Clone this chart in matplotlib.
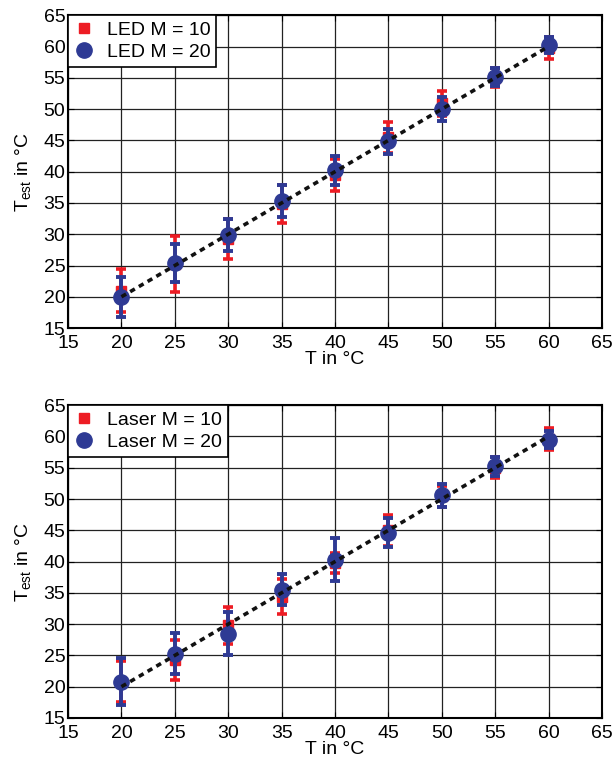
import numpy as np
import matplotlib.pyplot as plt
from matplotlib.lines import Line2D

plt.rcParams['font.family'] = ['Liberation Sans', 'DejaVu Sans']
plt.rcParams['mathtext.fontset'] = 'custom'
plt.rcParams['mathtext.rm'] = 'Liberation Sans'

T_set = [20, 25, 30, 35, 40, 45, 50, 55, 60]

# LED measurements (mean, error)
led_m10 = [21.0, 25.2, 29.3, 34.8, 39.5, 45.5, 50.9, 55.0, 59.8]
led_m10_err = [3.4, 4.5, 3.2, 3.0, 2.6, 2.5, 2.0, 1.5, 1.8]
led_m20 = [19.9, 25.4, 29.9, 35.3, 40.2, 44.9, 50.0, 55.1, 60.3]
led_m20_err = [3.2, 3.0, 2.5, 2.5, 2.3, 2.0, 1.9, 1.4, 1.3]

# Laser measurements (mean, error)
laser_m10 = [20.8, 24.3, 29.8, 34.4, 39.8, 45.0, 50.4, 55.0, 59.6]
laser_m10_err = [3.3, 3.2, 3.0, 2.8, 1.6, 2.5, 1.7, 1.7, 1.7]
laser_m20 = [20.8, 25.3, 28.5, 35.5, 40.3, 44.6, 50.6, 55.2, 59.5]
laser_m20_err = [3.8, 3.3, 3.4, 2.5, 3.4, 2.3, 1.8, 1.5, 1.4]

ticks = [15, 20, 25, 30, 35, 40, 45, 50, 55, 60, 65]

RED = '#ED1C24'
BLUE = '#2E3A94'
FS = 14

fig = plt.figure(figsize=(6.13, 7.63), dpi=100)
ax1 = fig.add_axes([0.111, 0.570, 0.871, 0.410])
ax2 = fig.add_axes([0.111, 0.059, 0.871, 0.410])


def draw(ax, m10, e10, m20, e20, name):
    ax.errorbar(T_set, m10, yerr=e10, fmt='s', color=RED, ms=7,
                elinewidth=2.6, capsize=3.5, capthick=2.6, zorder=3)
    ax.errorbar(T_set, m20, yerr=e20, fmt='o', color=BLUE, ms=11,
                elinewidth=2.8, capsize=3.5, capthick=2.8, zorder=4)
    ax.plot([T_set[0], T_set[-1]], [T_set[0], T_set[-1]], color='#111111',
            lw=2.6, linestyle=(0, (1.5, 1.3)), zorder=5)

    ax.set_xlim(15, 65)
    ax.set_ylim(15, 65)
    ax.set_xticks(ticks)
    ax.set_yticks(ticks)
    ax.grid(True, color='#222222', lw=0.9)
    ax.set_axisbelow(True)
    ax.tick_params(direction='in', length=4, labelsize=FS, top=True, right=True)
    ax.tick_params(axis='x', pad=5)
    ax.tick_params(axis='y', pad=2)
    for s in ax.spines.values():
        s.set_linewidth(1.5)
    ax.set_xlabel('T in °C', fontsize=FS, labelpad=-1)
    ax.set_ylabel(r'T$_{\mathrm{est}}$ in °C', fontsize=FS, labelpad=7)

    handles = [
        Line2D([], [], ls='none', marker='s', color=RED, ms=7),
        Line2D([], [], ls='none', marker='o', color=BLUE, ms=11),
    ]
    leg = ax.legend(handles, [name + ' M = 10', name + ' M = 20'],
                    loc='upper left', fontsize=FS, fancybox=False,
                    framealpha=1, edgecolor='black', borderaxespad=0,
                    handlelength=1.0, handletextpad=0.7,
                    borderpad=0.3, labelspacing=0.25)
    leg.get_frame().set_linewidth(1.2)


draw(ax1, led_m10, led_m10_err, led_m20, led_m20_err, 'LED')
draw(ax2, laser_m10, laser_m10_err, laser_m20, laser_m20_err, 'Laser')

fig.savefig('out.png', dpi=100)
